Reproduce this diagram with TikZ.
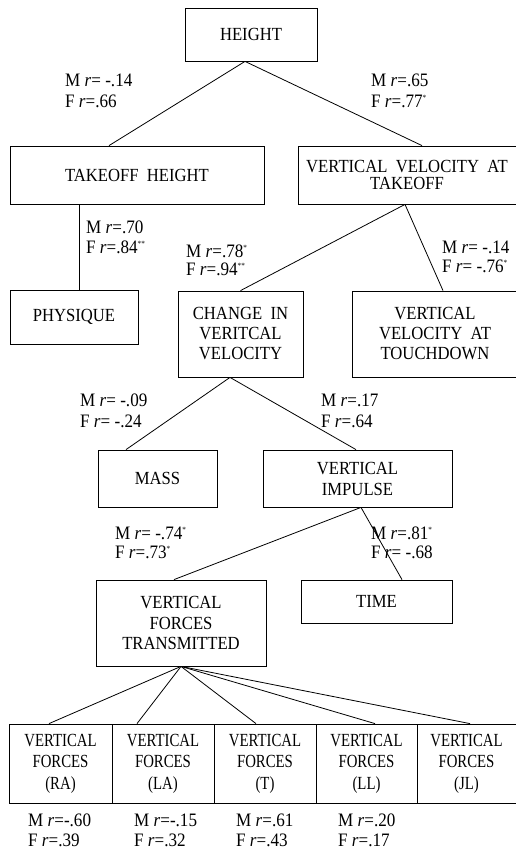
\documentclass[tikz,border=0pt]{standalone}
\usepackage{fontspec}
\setmainfont[FakeStretch=0.9]{Liberation Serif}
\newfontfamily\narrowfont[FakeStretch=0.8]{Liberation Serif}
\newcommand{\sig}[1]{\textsuperscript{\fontsize{8}{8}\selectfont #1}}
\tikzset{
  box/.style={draw, line width=0.8pt, inner sep=0pt, align=center, font=\fontsize{18.5}{20}\selectfont},
  lab/.style={anchor=base west, inner sep=0pt, font=\fontsize{19}{21}\selectfont},
  conn/.style={line width=0.8pt},
  fbox/.style={box, minimum width=102, minimum height=79, font=\narrowfont\fontsize{18.5}{21.5}\selectfont}
}
\begin{document}
\begin{tikzpicture}[x=1pt, y=-1pt]
\useasboundingbox[fill=white] (0,0) rectangle (515,855);
% boxes
\node[box, minimum width=132, minimum height=53] (height) at (251,34.5) {HEIGHT};
\node[box, minimum width=254, minimum height=58] (takeoff) at (137,175) {TAKEOFF\ \ HEIGHT};
\node[box, minimum width=218, minimum height=58, font=\fontsize{18.5}{17.5}\selectfont] (vvt) at (407,175) {VERTICAL\ \ VELOCITY\ \ AT\\TAKEOFF};
\node[box, minimum width=128, minimum height=54] (physique) at (74,317) {PHYSIQUE};
\node[box, minimum width=125, minimum height=86] (change) at (240.5,334) {CHANGE\ \ IN\\VERITCAL\\VELOCITY};
\node[box, minimum width=166, minimum height=86] (vvtd) at (435,334) {VERTICAL\\VELOCITY\ \ AT\\TOUCHDOWN};
\node[box, minimum width=119, minimum height=57] (mass) at (157.5,478.5) {MASS};
\node[box, minimum width=189, minimum height=57, font=\fontsize{18.5}{21}\selectfont] (vi) at (357.5,478.5) {VERTICAL\\IMPULSE};
\node[box, minimum width=170, minimum height=86, font=\fontsize{18.5}{20.5}\selectfont] (vft) at (181,623) {VERTICAL\\FORCES\\TRANSMITTED};
\node[box, minimum width=151, minimum height=43] (time) at (376.5,601.5) {TIME};
\node[fbox, minimum width=103] (ra) at (60.5,763.5) {VERTICAL\\FORCES\\(RA)};
\node[fbox] (la) at (163,763.5) {VERTICAL\\FORCES\\(LA)};
\node[fbox] (t) at (265,763.5) {VERTICAL\\FORCES\\(T)};
\node[fbox, minimum width=101] (ll) at (366.5,763.5) {VERTICAL\\FORCES\\(LL)};
\node[fbox, minimum width=99] (jl) at (466.5,763.5) {VERTICAL\\FORCES\\(JL)};
% connectors
\draw[conn] ([xshift=-6]height.south) -- ([xshift=-28]takeoff.north);
\draw[conn] ([xshift=-6]height.south) -- ([xshift=15]vvt.north);
\draw[conn] ([xshift=-58]takeoff.south) -- ([xshift=5]physique.north);
\draw[conn] ([xshift=-2]vvt.south) -- (change.north);
\draw[conn] ([xshift=-2]vvt.south) -- ([xshift=8]vvtd.north);
\draw[conn] ([xshift=-10.5]change.south) -- ([xshift=-31.5]mass.north);
\draw[conn] ([xshift=-10.5]change.south) -- ([xshift=-1.5]vi.north);
\draw[conn] ([xshift=3.5]vi.south) -- ([xshift=-7]vft.north);
\draw[conn] ([xshift=3.5]vi.south) -- ([xshift=25.5]time.north);
\draw[conn] (vft.south) -- ([xshift=-11.5]ra.north);
\draw[conn] (vft.south) -- ([xshift=-26]la.north);
\draw[conn] (vft.south) -- ([xshift=-9]t.north);
\draw[conn] (vft.south) -- ([xshift=8.5]ll.north);
\draw[conn] (vft.south) -- ([xshift=3.5]jl.north);
% labels
\node[lab] (l1m) at (65,86) {M \textit{r}= -.14};
\node[lab] (l1f) at (65,107) {F \textit{r}=.66};
\node[lab] (l2m) at (371,86) {M \textit{r}=.65};
\node[lab] (l2f) at (371,107) {F \textit{r}=.77\sig{*}};
\node[lab] (l3m) at (86,233) {M \textit{r}=.70};
\node[lab] (l3f) at (86,253) {F \textit{r}=.84\sig{**}};
\node[lab] (l4m) at (186,257) {M \textit{r}=.78\sig{*}};
\node[lab] (l4f) at (186,275) {F \textit{r}=.94\sig{**}};
\node[lab] (l5m) at (442,253) {M \textit{r}= -.14};
\node[lab] (l5f) at (442,272) {F \textit{r}= -.76\sig{*}};
\node[lab] (l6m) at (80,406) {M \textit{r}= -.09};
\node[lab] (l6f) at (80,427) {F \textit{r}= -.24};
\node[lab] (l7m) at (321,406) {M \textit{r}=.17};
\node[lab] (l7f) at (321,427) {F \textit{r}=.64};
\node[lab] (l8m) at (115,539) {M \textit{r}= -.74\sig{*}};
\node[lab] (l8f) at (115,558) {F \textit{r}=.73\sig{*}};
\node[lab] (l9m) at (371,539) {M \textit{r}=.81\sig{*}};
\node[lab] (l9f) at (371,558) {F \textit{r}= -.68};
\node[lab] (b1m) at (28,826) {M \textit{r}=-.60};
\node[lab] (b1f) at (28,846) {F \textit{r}=.39};
\node[lab] (b2m) at (134,826) {M \textit{r}=-.15};
\node[lab] (b2f) at (134,846) {F \textit{r}=.32};
\node[lab] (b3m) at (236,826) {M \textit{r}=.61};
\node[lab] (b3f) at (236,846) {F \textit{r}=.43};
\node[lab] (b4m) at (338,826) {M \textit{r}=.20};
\node[lab] (b4f) at (338,846) {F \textit{r}=.17};
\end{tikzpicture}
\end{document}
